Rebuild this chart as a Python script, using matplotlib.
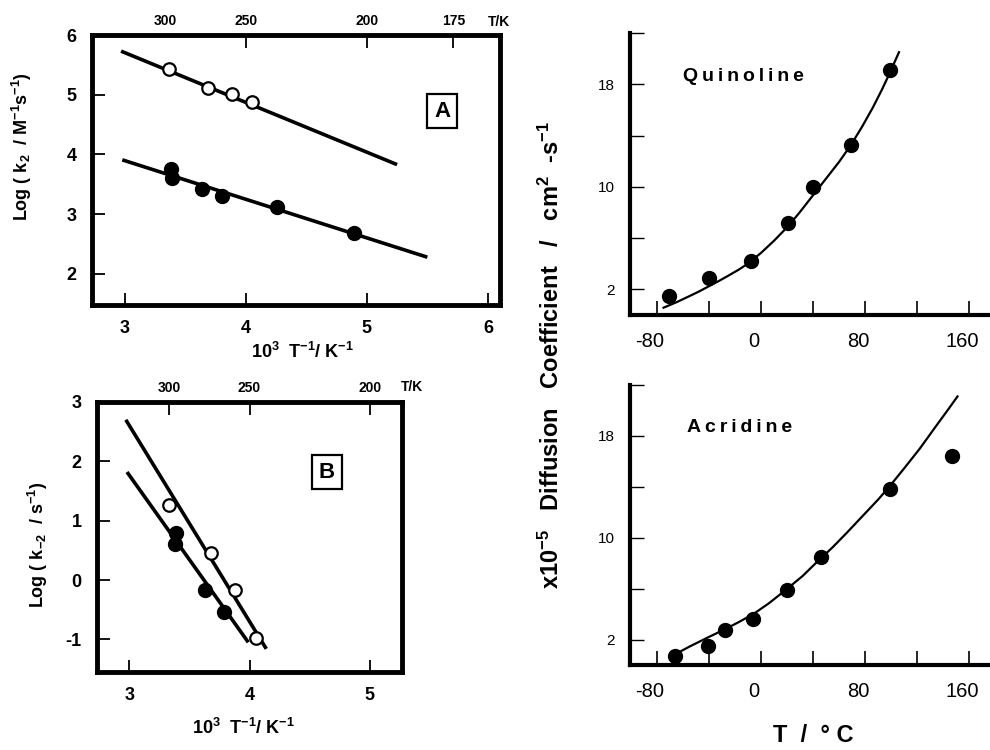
import matplotlib
matplotlib.use("Agg")
import matplotlib.pyplot as plt
import matplotlib.transforms as mtransforms

plt.rcParams["font.family"] = ["Liberation Sans", "DejaVu Sans"]
plt.rcParams["mathtext.fontset"] = "custom"
plt.rcParams["mathtext.rm"] = "Liberation Sans:bold"
plt.rcParams["mathtext.it"] = "Liberation Sans:bold"
plt.rcParams["mathtext.bf"] = "Liberation Sans:bold"
plt.rcParams["mathtext.default"] = "rm"
plt.rcParams["axes.unicode_minus"] = False

# panel A: log k2 against 1000/T
a_open_x = [3.37, 3.69, 3.89, 4.05]
a_open_y = [5.43, 5.11, 5.01, 4.88]
a_fill_x = [3.38, 3.39, 3.64, 3.80, 4.26, 4.89]
a_fill_y = [3.75, 3.60, 3.43, 3.30, 3.12, 2.68]
a_fit_open_x = [2.97, 5.25]
a_fit_open_y = [5.73, 3.83]
a_fit_fill_x = [2.98, 5.50]
a_fit_fill_y = [3.91, 2.28]
a_top_T = [300, 250, 200, 175]

# panel B: log k-2 against 1000/T
b_open_x = [3.33, 3.68, 3.88, 4.05]
b_open_y = [1.26, 0.45, -0.17, -0.98]
b_fill_x = [3.39, 3.38, 3.63, 3.79]
b_fill_y = [0.79, 0.60, -0.17, -0.54]
b_fit_open_x = [2.97, 4.14]
b_fit_open_y = [2.70, -1.16]
b_fit_fill_x = [2.98, 3.99]
b_fit_fill_y = [1.82, -1.05]
b_top_T = [300, 250, 200]

# diffusion coefficients (x1e-5 cm2/s) against T / degC
quin_T = [-71, -40, -8, 21, 40, 69, 99]
quin_D = [1.5, 2.9, 4.2, 7.2, 10.0, 13.25, 19.1]
quin_fit_T = [-75, -65, -56, -48, -40, -32, -25, -17, -10, 0, 10, 21, 30, 40, 50,
              60, 69, 78, 86, 93, 99, 106]
quin_fit_D = [0.57, 1.0, 1.43, 1.82, 2.25, 2.68, 3.08, 3.55, 4.02, 4.85, 5.8, 6.95,
              8.05, 9.35, 10.65, 11.95, 13.25, 14.75, 16.2, 17.6, 18.9, 20.5]

acr_T = [-66, -41, -28, -6, 20, 46, 99, 147]
acr_D = [0.68, 1.52, 2.73, 3.58, 5.9, 8.48, 13.86, 16.44]
acr_fit_T = [-66, -55, -41, -28, -17, -6, 6, 19, 32, 42, 55, 66, 78, 90, 98, 110,
             122, 134, 144, 151]
acr_fit_D = [0.85, 1.45, 2.16, 2.8, 3.38, 4.0, 4.85, 5.9, 7.0, 8.0, 9.25, 10.4,
             11.7, 13.0, 13.94, 15.45, 17.0, 18.7, 20.1, 21.1]

W, H = 990, 750
fig = plt.figure(figsize=(9.9, 7.5), dpi=100)


def box(l, r, t, b):
    return [l / W, 1 - b / H, (r - l) / W, (b - t) / H]


def arrhenius_panel(rect, xlim, ylim, xticks, yticks, top_T, fits, opens, fills, letter, letter_xy):
    ax = fig.add_axes(rect)
    for fx, fy in fits:
        ax.plot(fx, fy, color="black", lw=2.6, solid_capstyle="butt")
    ax.plot(opens[0], opens[1], "o", ms=9, mfc="white", mec="black", mew=1.6)
    ax.plot(fills[0], fills[1], "o", ms=10, color="black")
    ax.set_xlim(*xlim)
    ax.set_ylim(*ylim)
    ax.set_xticks(xticks)
    ax.set_yticks(yticks)
    ax.tick_params(direction="in", length=9, width=1.3, labelsize=13, pad=11)
    for lab in ax.get_xticklabels() + ax.get_yticklabels():
        lab.set_fontweight("bold")
    for s in ax.spines.values():
        s.set_linewidth(3.5)
    top = ax.twiny()
    top.set_xlim(*xlim)
    top.set_xticks([1000.0 / t for t in top_T])
    top.set_xticklabels([str(t) for t in top_T], fontweight="bold")
    top.tick_params(direction="in", length=9, width=1.3, labelsize=10, pad=5)
    ax.text(letter_xy[0], letter_xy[1], letter, transform=ax.transAxes, fontsize=16,
            fontweight="bold", ha="center", va="center",
            bbox=dict(boxstyle="square,pad=0.3", fc="white", ec="black", lw=1.6))
    return ax, top


axA, topA = arrhenius_panel(box(92, 500, 35, 305), (2.73, 6.1), (1.48, 6.0), [3, 4, 5, 6],
                            [2, 3, 4, 5, 6], a_top_T,
                            [(a_fit_open_x, a_fit_open_y), (a_fit_fill_x, a_fit_fill_y)],
                            (a_open_x, a_open_y), (a_fill_x, a_fill_y), "A", (0.858, 0.718))
topA.xaxis.get_major_ticks()[0].tick2line.set_visible(False)
fig.text(499 / W, 1 - 22 / H, "T/K", fontsize=10, fontweight="bold", ha="center", va="center")
fig.text(302 / W, 1 - 352 / H, r"10$^{3}$  T$^{-1}$/ K$^{-1}$", fontsize=13,
         fontweight="bold", ha="center", va="center")
fig.text(22 / W, 1 - 147 / H, r"Log ( k$_{2}$  / M$^{-1}$s$^{-1}$)", fontsize=13,
         fontweight="bold", rotation=90, ha="center", va="center")

axB, topB = arrhenius_panel(box(97, 402, 402, 672), (2.73, 5.27), (-1.55, 3.0), [3, 4, 5],
                            [-1, 0, 1, 2, 3], b_top_T,
                            [(b_fit_open_x, b_fit_open_y), (b_fit_fill_x, b_fit_fill_y)],
                            (b_open_x, b_open_y), (b_fill_x, b_fill_y), "B", (0.754, 0.74))
fig.text(412 / W, 1 - 387 / H, "T/K", fontsize=10, fontweight="bold", ha="center", va="center")
fig.text(243 / W, 1 - 728 / H, r"10$^{3}$  T$^{-1}$/ K$^{-1}$", fontsize=13,
         fontweight="bold", ha="center", va="center")
fig.text(38 / W, 1 - 545 / H, r"Log ( k$_{-2}$  / s$^{-1}$)", fontsize=13,
         fontweight="bold", rotation=90, ha="center", va="center")


def diffusion_panel(rect, T, D, fitT, fitD, name, name_xy):
    ax = fig.add_axes(rect)
    ax.plot(fitT, fitD, color="black", lw=1.6)
    ax.plot(T, D, "o", ms=10, color="black", clip_on=False)
    ax.set_xlim(-100.8, 176)
    ax.set_ylim(0, 22)
    ax.set_xticks(range(-80, 161, 40))
    ax.set_xticklabels([str(v) if v % 80 == 0 else "" for v in range(-80, 161, 40)])
    ax.set_yticks(range(2, 23, 4))
    ax.set_yticklabels([str(v) if v in (2, 10, 18) else "" for v in range(2, 23, 4)])
    ax.tick_params(axis="x", direction="in", length=10, width=1.2, labelsize=14.5, pad=12)
    ax.tick_params(axis="y", direction="in", length=10, width=1.0, labelsize=11, pad=11)
    shift = mtransforms.ScaledTranslation(-7 / 100, 0, fig.dpi_scale_trans)
    for lab in ax.get_xticklabels():
        lab.set_transform(lab.get_transform() + shift)
    ax.spines["top"].set_visible(False)
    ax.spines["right"].set_visible(False)
    ax.spines["left"].set_linewidth(3)
    ax.spines["bottom"].set_linewidth(3)
    ax.text(name_xy[0], name_xy[1], name, transform=ax.transAxes, fontsize=14,
            fontweight="bold", ha="center", va="center")
    return ax


diffusion_panel(box(630, 990, 33, 315), quin_T, quin_D, quin_fit_T, quin_fit_D,
                "\u2009".join("Quinoline"), (0.314, 0.844))
diffusion_panel(box(630, 990, 385, 665), acr_T, acr_D, acr_fit_T, acr_fit_D,
                "\u2009".join("Acridine"), (0.303, 0.85))
fig.text(551 / W, 1 - 355 / H,
         r"x10$^{-5}$   Diffusion   Coefficient   /   cm$^{2}$  -s$^{-1}$",
         fontsize=17, fontweight="bold", rotation=90, ha="center", va="center")
fig.text(813 / W, 1 - 735 / H, "T  /  \u00b0 C", fontsize=17, fontweight="bold",
         ha="center", va="center")

fig.savefig("out.png", dpi=100)
